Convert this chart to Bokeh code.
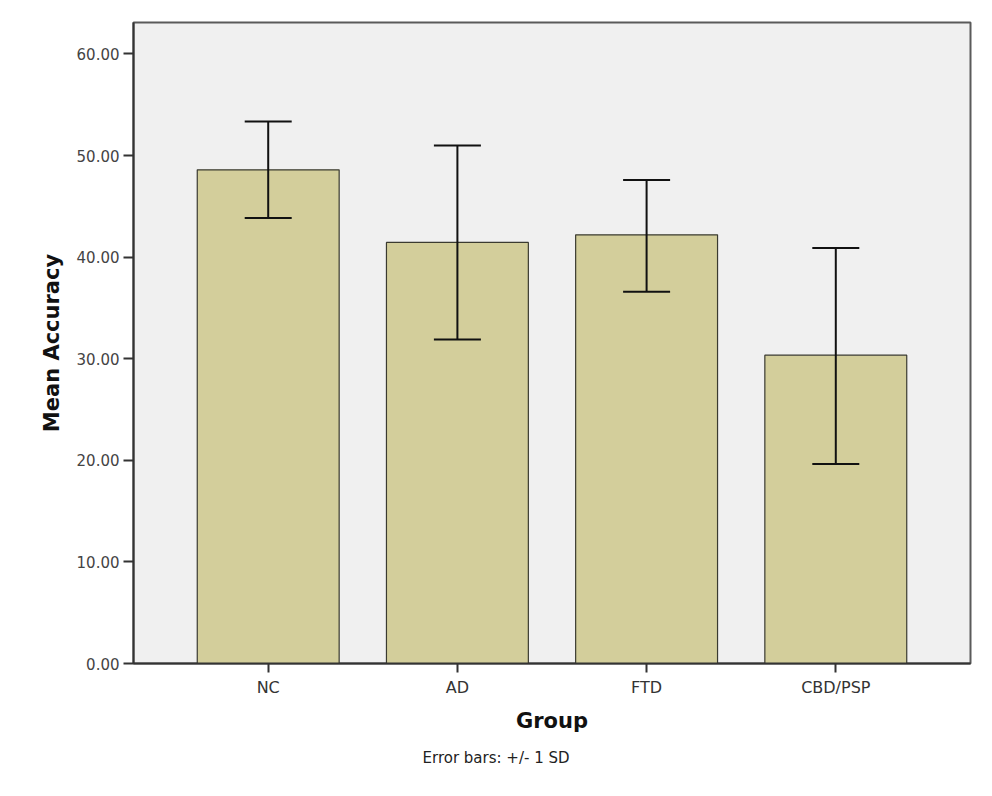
from bokeh.plotting import figure
from bokeh.models import (FactorRange, Range1d, Whisker, TeeHead, ColumnDataSource,
                          FixedTicker, NumeralTickFormatter, Title)
from bokeh.embed import file_html
from bokeh.resources import INLINE

groups = ["NC", "AD", "FTD", "CBD/PSP"]
means = [48.6, 41.45, 42.2, 30.35]
upper = [53.35, 51.0, 47.6, 40.9]
lower = [43.85, 31.9, 36.6, 19.65]
y_ticks = [0, 10, 20, 30, 40, 50, 60]

FONT = "DejaVu Sans"

src = ColumnDataSource(dict(group=groups, mean=means, upper=upper, lower=lower))

p = figure(width=984, height=790, output_backend="svg", toolbar_location=None,
           x_range=FactorRange(factors=groups, range_padding=0.106),
           y_range=Range1d(0, 63.1),
           min_border_left=133, min_border_right=14, min_border_top=22, min_border_bottom=127)

p.background_fill_color = "#F0F0F0"
p.border_fill_color = "white"
p.outline_line_color = "#5a5a5a"
p.outline_line_width = 2
p.xgrid.visible = False
p.ygrid.visible = False

p.vbar(x="group", top="mean", width=0.75, source=src,
       fill_color="#D3CE9B", line_color="#3a3a30", line_width=1.2)

w = Whisker(base="group", upper="upper", lower="lower", source=src, level="overlay",
            line_color="#111111", line_width=2,
            upper_head=TeeHead(size=47, line_color="#111111", line_width=2),
            lower_head=TeeHead(size=47, line_color="#111111", line_width=2))
p.add_layout(w)

# y axis
p.yaxis.ticker = FixedTicker(ticks=y_ticks)
p.yaxis.formatter = NumeralTickFormatter(format="0.00")
p.yaxis.minor_tick_line_color = None
p.yaxis.major_tick_in = 0
p.yaxis.major_tick_out = 10
p.yaxis.major_tick_line_color = "#333333"
p.yaxis.major_tick_line_width = 2
p.yaxis.axis_line_color = "#333333"
p.yaxis.axis_line_width = 2
p.yaxis.major_label_standoff = 4
p.yaxis.major_label_text_font = FONT
p.yaxis.major_label_text_font_size = "15px"
p.yaxis.major_label_text_color = "#444444"
p.yaxis.axis_label = "Mean Accuracy"
p.yaxis.axis_label_text_font = FONT
p.yaxis.axis_label_text_font_size = "21px"
p.yaxis.axis_label_text_font_style = "bold"
p.yaxis.axis_label_text_color = "#111111"
p.yaxis.axis_label_standoff = 10

# x axis
p.xaxis.major_tick_in = 0
p.xaxis.major_tick_out = 9
p.xaxis.major_tick_line_color = "#333333"
p.xaxis.major_tick_line_width = 2
p.xaxis.axis_line_color = "#333333"
p.xaxis.axis_line_width = 2
p.xaxis.major_label_standoff = 5
p.xaxis.major_label_text_font = FONT
p.xaxis.major_label_text_font_size = "16px"
p.xaxis.major_label_text_color = "#333333"
p.xaxis.axis_label = "Group"
p.xaxis.axis_label_text_font = FONT
p.xaxis.axis_label_text_font_size = "21px"
p.xaxis.axis_label_text_font_style = "bold"
p.xaxis.axis_label_text_color = "#111111"
p.xaxis.axis_label_standoff = 9

note = Title(text="Error bars: +/- 1 SD", align="left", offset=289,
             text_font=FONT, text_font_size="15px", text_font_style="normal",
             text_color="#222222", standoff=22)
p.add_layout(note, "below")

open("out.html", "w").write(file_html(p, INLINE))
